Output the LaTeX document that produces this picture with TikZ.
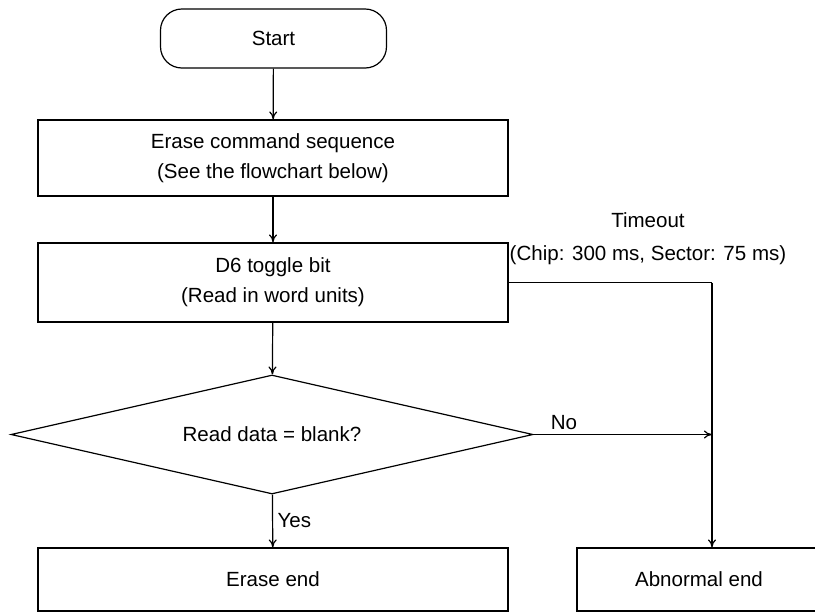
\documentclass[tikz,border=0pt]{standalone}
\usepackage{fontspec}
\setmainfont{Liberation Sans}
\usetikzlibrary{shapes.geometric,arrows.meta}

\begin{document}
\begin{tikzpicture}[x=0.75pt,y=-0.75pt,line width=0.9pt,
  every node/.style={font=\fontsize{15.4}{22.5}\selectfont},
  proc/.style={draw,rectangle,minimum width=352.5pt,align=center,inner sep=0pt},
  term/.style={draw,rectangle,rounded corners=16pt,minimum width=169.5pt,minimum height=44.25pt},
  dec/.style={draw,diamond,shape aspect=4.4,inner sep=0pt,minimum width=391.5pt,minimum height=89.25pt},
  arr/.style={-{To[length=6pt,width=6pt]}}]
\clip (0,0) rectangle (815,612);
\node[term] (start) at (273.5,38.5) {Start};
\node[proc,minimum height=57pt] (cmd) at (273,158) {Erase command sequence\\(See the flowchart below)};
\node[proc,minimum height=59.25pt] (toggle) at (273,282.5) {D6 toggle bit\\(Read in word units)};
\node[dec] (check) at (272,434.5) {Read data = blank?};
\node[proc,minimum height=47.25pt] (eend) at (273,579.5) {Erase end};
\node[proc,minimum height=47.25pt,minimum width=183pt] (aend) at (699,579.5) {Abnormal end};
\coordinate (bend) at (712,282.5);
\node[align=center] (timeout) at (648,239) {Timeout\\[2pt](Chip: 300 ms, Sector: 75 ms)};
\draw[arr] (start) -- (cmd);
\draw[arr] (cmd) -- (toggle);
\draw[arr] (toggle) -- (check);
\draw[arr] (check) -- node[right] {Yes} (eend);
\draw[arr] (check.east) -- node[above,pos=0.17] {No} (check.east -| bend);
\draw (toggle.east) -- (bend);
\draw[arr] (bend) -- (bend |- aend.north);
\end{tikzpicture}
\end{document}
